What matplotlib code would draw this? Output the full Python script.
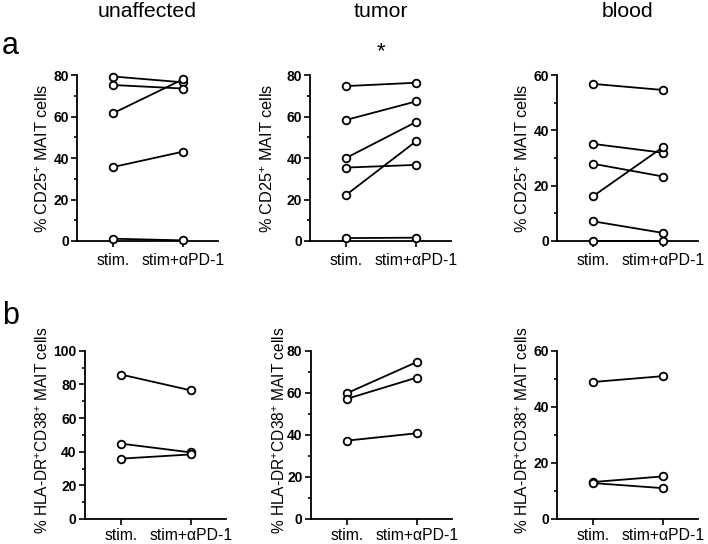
import matplotlib
matplotlib.use("Agg")
import matplotlib.pyplot as plt
from matplotlib.ticker import MultipleLocator

plt.rcParams['font.family'] = ['Liberation Sans', 'DejaVu Sans']
plt.rcParams['mathtext.fontset'] = 'custom'
plt.rcParams['mathtext.rm'] = 'Liberation Sans'
plt.rcParams['mathtext.it'] = 'Liberation Sans:italic'
plt.rcParams['mathtext.bf'] = 'Liberation Sans:bold'

conditions = ["stim.", "stim+\u03b1PD-1"]
tissues = ["unaffected", "tumor", "blood"]

# row a: % CD25+ MAIT cells, pairs (stim., stim+aPD-1)
cd25_unaffected_stim = [79.3, 75.2, 61.7, 35.7, 1.1]
cd25_unaffected_pd1 = [76.5, 73.5, 78.0, 43.1, 0.3]
cd25_tumor_stim = [74.7, 58.4, 40.1, 35.4, 22.3, 1.4]
cd25_tumor_pd1 = [76.3, 67.3, 57.4, 36.7, 48.1, 1.6]
cd25_blood_stim = [56.8, 35.1, 27.9, 16.3, 7.1, 0.1]
cd25_blood_pd1 = [54.6, 31.9, 23.3, 34.0, 2.9, 0.1]

# row b: % HLA-DR+CD38+ MAIT cells
hla_unaffected_stim = [85.9, 44.8, 35.9]
hla_unaffected_pd1 = [76.5, 39.6, 38.4]
hla_tumor_stim = [59.9, 57.2, 37.3]
hla_tumor_pd1 = [74.7, 67.3, 40.8]
hla_blood_stim = [48.9, 13.2, 12.8]
hla_blood_pd1 = [51.0, 15.2, 11.0]

row_a = [(cd25_unaffected_stim, cd25_unaffected_pd1, 80),
         (cd25_tumor_stim, cd25_tumor_pd1, 80),
         (cd25_blood_stim, cd25_blood_pd1, 60)]
row_b = [(hla_unaffected_stim, hla_unaffected_pd1, 100),
         (hla_tumor_stim, hla_tumor_pd1, 80),
         (hla_blood_stim, hla_blood_pd1, 60)]

fig = plt.figure(figsize=(7.08, 5.44), dpi=100)

lefts_a = [0.109, 0.438, 0.787]
lefts_b = [0.120, 0.439, 0.787]
w = 0.199
# y label centre offsets from the y axis, in pixels
label_off_a = [34, 42, 34]
label_off_b = [42, 31, 34]


def draw_panel(ax, stim, pd1, ymax, ylabel, off, label_y, label_size, xpad):
    for s, p in zip(stim, pd1):
        ax.plot([0, 1], [s, p], color='black', lw=1.3, marker='o',
                markersize=5.5, markerfacecolor='white', markeredgecolor='black',
                markeredgewidth=1.3, clip_on=False, zorder=3)
    ax.set_xlim(-0.52, 1.5)
    ax.set_ylim(0, ymax)
    ax.set_xticks([0, 1])
    ax.set_xticklabels(conditions, fontsize=11.3)
    step = 20
    ax.yaxis.set_major_locator(MultipleLocator(step))
    ax.yaxis.set_minor_locator(MultipleLocator(step / 2))
    for lab in ax.get_yticklabels():
        lab.set_fontweight('bold')
    ax.tick_params(axis='y', which='major', labelsize=10, length=4, width=1.2, pad=2)
    ax.tick_params(axis='y', which='minor', length=2.5, width=1.2)
    ax.tick_params(axis='x', length=4, width=1.2, pad=xpad)
    for side in ['top', 'right']:
        ax.spines[side].set_visible(False)
    for side in ['left', 'bottom']:
        ax.spines[side].set_linewidth(1.3)
    ax.text(-off / (w * 708), label_y, ylabel, transform=ax.transAxes, rotation=90,
            ha='center', va='center', fontsize=label_size)


for i, (stim, pd1, ymax) in enumerate(row_a):
    ax = fig.add_axes([lefts_a[i], 0.557, w, 0.305])
    draw_panel(ax, stim, pd1, ymax, "% CD25$^{+}$ MAIT cells", label_off_a[i],
               0.5, 11.7, 5)
    cx = lefts_a[i] + w / 2
    fig.text(cx, 0.978, tissues[i], fontsize=15.3, ha='center', va='center')
    if tissues[i] == "tumor":
        fig.text(cx, 0.905, "*", ha='center', va='center', fontsize=16)

for i, (stim, pd1, ymax) in enumerate(row_b):
    ax = fig.add_axes([lefts_b[i], 0.046, w, 0.309])
    draw_panel(ax, stim, pd1, ymax, "% HLA-DR$^{+}$CD38$^{+}$ MAIT cells",
               label_off_b[i], 0.53, 11.2, 2.5)

fig.text(0.003, 0.915, "a", fontsize=22, va='center', ha='left')
fig.text(0.003, 0.42, "b", fontsize=22, va='center', ha='left')

fig.savefig("out.png", dpi=100)
